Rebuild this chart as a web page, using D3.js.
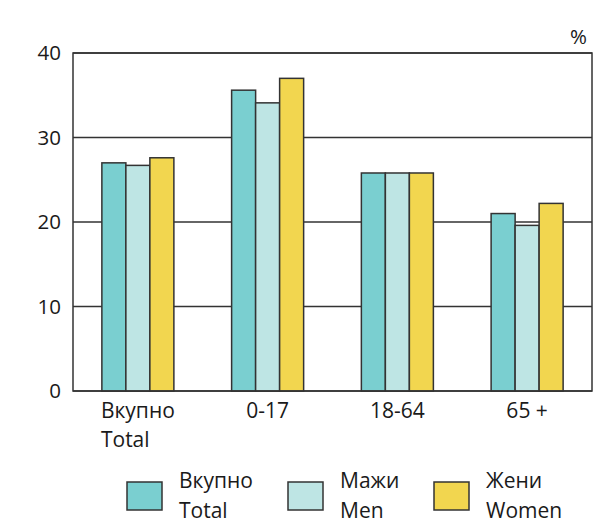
<!DOCTYPE html>
<meta charset="utf-8">
<style>
body { margin: 0; background: #fff; }
text { font-family: "Open Sans", sans-serif; fill: #1a1a1a; }
.grid line { stroke: #333; stroke-width: 1.5px; }
.bar { stroke: #333; stroke-width: 1.5px; }
.frame { fill: none; stroke: #333; stroke-width: 1.5px; }
</style>
<body>
<script src="https://d3js.org/d3.v7.min.js"></script>
<script>
var width = 605,
    height = 532;

var categories = [["Вкупно", "Total"], ["0-17"], ["18-64"], ["65 +"]];
var seriesNames = [["Вкупно", "Total"], ["Мажи", "Men"], ["Жени", "Women"]];
var colors = ["#7acfd0", "#bee5e4", "#f2d64f"];
var total = [27.0, 35.6, 25.8, 21.0];
var men = [26.7, 34.1, 25.8, 19.6];
var women = [27.6, 37.0, 25.8, 22.2];
var yTicks = [0, 10, 20, 30, 40];

var series = [total, men, women];

var margin = {left: 73, right: 13, top: 53, bottom: 141};
var plotW = width - margin.left - margin.right,
    plotH = height - margin.top - margin.bottom;

var svg = d3.select("body").append("svg")
    .attr("width", width)
    .attr("height", height);

var g = svg.append("g")
    .attr("transform", "translate(" + margin.left + "," + margin.top + ")");

var x = d3.scaleBand()
    .domain(d3.range(categories.length))
    .range([0, plotW])
    .paddingInner(0.445)
    .paddingOuter(0.2225);

var x1 = d3.scaleBand()
    .domain(d3.range(series.length))
    .range([0, x.bandwidth()]);

var y = d3.scaleLinear()
    .domain([0, 40])
    .range([plotH, 0]);

// gridlines
g.append("g").attr("class", "grid")
  .selectAll("line")
  .data(yTicks)
  .join("line")
    .attr("x1", 0)
    .attr("x2", plotW)
    .attr("y1", function(d) { return y(d); })
    .attr("y2", function(d) { return y(d); });

// tick labels
g.selectAll(".ytick")
  .data(yTicks)
  .join("text")
    .attr("class", "ytick")
    .attr("x", -12)
    .attr("y", function(d) { return y(d); })
    .attr("dy", "0.36em")
    .attr("text-anchor", "end")
    .style("font-size", "20.5px")
    .text(function(d) { return d; });

// bars
var groups = g.selectAll(".cat")
  .data(categories)
  .join("g")
    .attr("class", "cat")
    .attr("transform", function(d, i) { return "translate(" + x(i) + ",0)"; });

groups.selectAll("rect")
  .data(function(d, i) { return series.map(function(s, j) { return {v: s[i], j: j}; }); })
  .join("rect")
    .attr("class", "bar")
    .attr("x", function(d) { return x1(d.j); })
    .attr("width", x1.bandwidth())
    .attr("y", function(d) { return y(d.v); })
    .attr("height", function(d) { return y(0) - y(d.v); })
    .attr("fill", function(d) { return colors[d.j]; });

g.append("rect")
    .attr("class", "frame")
    .attr("width", plotW)
    .attr("height", plotH);

// category labels
groups.each(function(d) {
  var t = d3.select(this).append("text")
      .attr("x", x.bandwidth() / 2)
      .attr("y", plotH + 27)
      .attr("text-anchor", "middle")
      .style("font-size", "21px")
      .text(d[0]);
  if (d.length > 1) {
    var w = t.node().getComputedTextLength();
    d3.select(this).append("text")
        .attr("x", x.bandwidth() / 2 - w / 2)
        .attr("y", plotH + 56)
        .style("font-size", "21px")
        .text(d[1]);
  }
});

svg.append("text")
    .attr("x", 587)
    .attr("y", 44)
    .attr("text-anchor", "end")
    .style("font-size", "20.5px")
    .text("%");

// legend
var legendX = [127, 288, 434];
var leg = svg.selectAll(".legend")
  .data(seriesNames)
  .join("g")
    .attr("class", "legend")
    .attr("transform", function(d, i) { return "translate(" + legendX[i] + ",482)"; });

leg.append("rect")
    .attr("class", "bar")
    .attr("width", 35)
    .attr("height", 28)
    .attr("fill", function(d, i) { return colors[i]; });

leg.append("text")
    .attr("x", 52)
    .attr("y", 6)
    .style("font-size", "21px")
    .text(function(d) { return d[0]; });

leg.append("text")
    .attr("x", 52)
    .attr("y", 36)
    .style("font-size", "21px")
    .text(function(d) { return d[1]; });
</script>
</body>
